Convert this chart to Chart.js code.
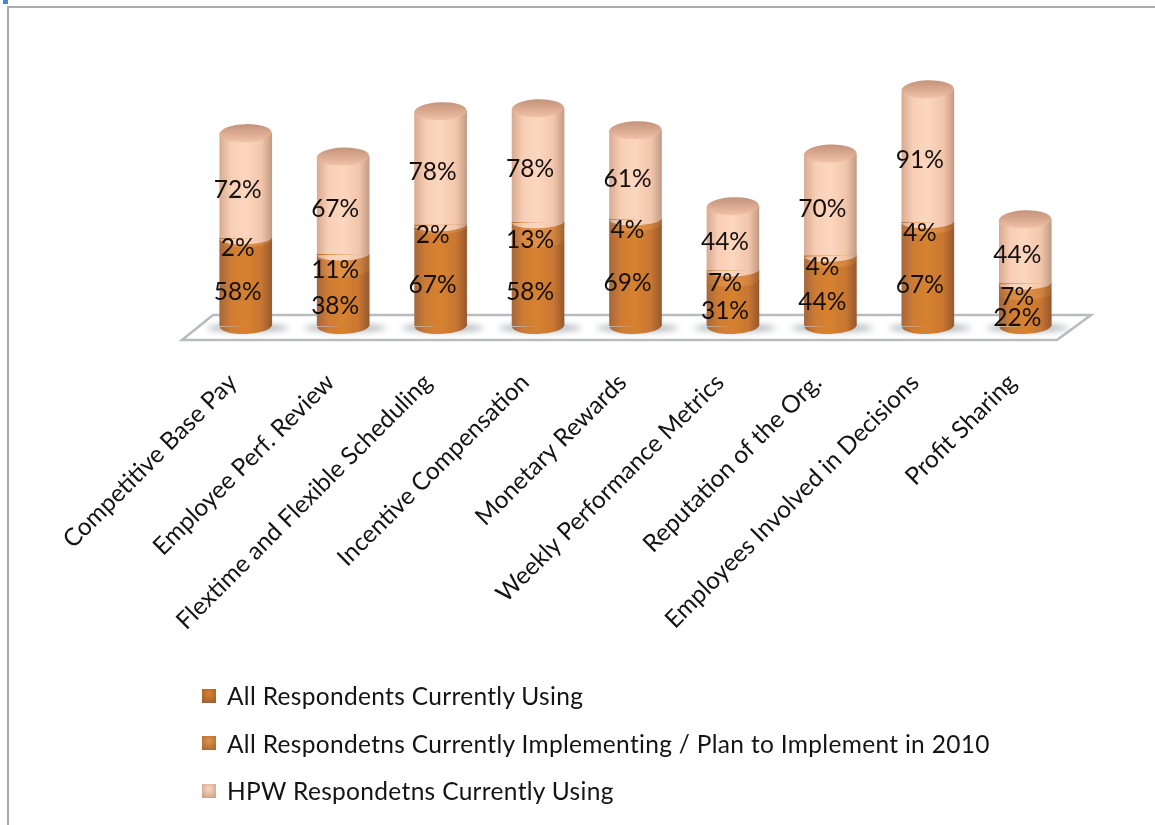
<!DOCTYPE html>
<html lang="en">
<head>
  <meta charset="UTF-8">
  <title>HPW practices</title>
  <script src="https://cdn.jsdelivr.net/npm/chart.js"></script>
  <style>
    html, body { margin: 0; padding: 0; background: #fff; overflow: hidden; }
    #wrap { position: absolute; left: 0; top: 0; width: 1155px; height: 825px; }
    #frame { position: absolute; left: 7px; top: 6px; right: -5px; bottom: -5px; border: 2px solid #a9adb2; }
    #corner { position: absolute; left: 3px; top: 0; width: 5px; height: 4px; background: #4a86d8; }
    canvas { position: absolute; left: 0; top: 0; }
    #legend { position: absolute; left: 202px; top: 672px; font: 24.5px Lato, sans-serif; letter-spacing: 0.32px; color: #141414; }
    .row { display: flex; align-items: center; height: 47.5px; white-space: nowrap; }
    .swatch { width: 14px; height: 14px; margin-right: 11px; flex: none; }
  </style>
</head>
<body>
  <div id="wrap">
    <div id="frame"></div>
    <div id="corner"></div>
    <canvas id="chart" width="1155" height="825"></canvas>
    <div id="legend"></div>
  </div>

  <script>
    const categories = ['Competitive Base Pay', 'Employee Perf. Review', 'Flextime and Flexible Scheduling',
      'Incentive Compensation', 'Monetary Rewards', 'Weekly Performance Metrics',
      'Reputation of the Org.', 'Employees Involved in Decisions', 'Profit Sharing'];
    const allUsing = [58, 38, 67, 58, 69, 31, 44, 67, 22];
    const allPlanning = [2, 11, 2, 13, 4, 7, 4, 4, 7];
    const hpwUsing = [72, 67, 78, 78, 61, 44, 70, 91, 44];
    const seriesNames = ['All Respondents Currently Using',
      'All Respondetns Currently Implementing / Plan to Implement in 2010',
      'HPW Respondetns Currently Using'];

    const BAR_W = 52;
    const stops = [
      ['#a5683c', '#cf7c34', '#d6822f', '#c87632', '#96592e'],
      ['#b06c3a', '#da8a42', '#e29246', '#d28440', '#a06434'],
      ['#d9ab92', '#f8cfb6', '#fcd6bf', '#f2c6ab', '#c39b85']
    ];

    function cylGradient(ctx, cx, colors) {
      const g = ctx.createLinearGradient(cx - BAR_W / 2, 0, cx + BAR_W / 2, 0);
      [0, 0.22, 0.5, 0.8, 1].forEach((p, i) => g.addColorStop(p, colors[i]));
      return g;
    }

    // round ends, dividers, floor and value labels, all placed from the bar elements
    const cylinders = {
      id: 'cylinders',
      beforeDatasetsDraw(chart) {
        const ctx = chart.ctx, a = chart.chartArea;
        ctx.save();
        ctx.beginPath();
        ctx.moveTo(a.left + 16, a.bottom - 11);
        ctx.lineTo(a.right + 17, a.bottom - 11);
        ctx.lineTo(a.right - 17, a.bottom + 14);
        ctx.lineTo(a.left - 15, a.bottom + 14);
        ctx.closePath();
        ctx.fillStyle = '#fff';
        ctx.fill();
        ctx.strokeStyle = '#b9bcbf';
        ctx.lineWidth = 2.5;
        ctx.stroke();
        ctx.filter = 'blur(3px)';
        ctx.fillStyle = 'rgba(85,95,105,0.45)';
        chart.getDatasetMeta(0).data.forEach(bar => {
          ctx.beginPath();
          ctx.ellipse(bar.x + 2, a.bottom + 2, BAR_W / 2 + 15, 4, 0, 0, Math.PI * 2);
          ctx.fill();
        });
        ctx.restore();
      },
      afterDatasetsDraw(chart) {
        const ctx = chart.ctx;
        const metas = [0, 1, 2].map(i => chart.getDatasetMeta(i));
        metas.forEach((meta, s) => {
          meta.data.forEach(bar => {
            ctx.save();
            ctx.fillStyle = cylGradient(ctx, bar.x, stops[s]);
            ctx.beginPath();
            ctx.ellipse(bar.x, bar.base, BAR_W / 2, s === 0 ? 8 : 6, -0.03, 0, Math.PI);
            ctx.fill();
            if (s === 2) {
              // lid, darker at the back and fading into the body at the front
              const g = ctx.createLinearGradient(0, bar.y - 9, 0, bar.y + 9);
              g.addColorStop(0, '#c4937b');
              g.addColorStop(0.55, '#dcab92');
              g.addColorStop(1, '#f0c2a8');
              ctx.fillStyle = g;
              ctx.beginPath();
              ctx.ellipse(bar.x, bar.y, BAR_W / 2, 9, -0.03, 0, Math.PI * 2);
              ctx.fill();
            }
            ctx.restore();
          });
        });
        ctx.save();
        ctx.font = '24.5px Lato, sans-serif';
        ctx.fillStyle = '#150f0c';
        ctx.textAlign = 'center';
        ctx.textBaseline = 'middle';
        metas.forEach((meta, s) => {
          const values = chart.data.datasets[s].data;
          meta.data.forEach((bar, i) => {
            ctx.fillText(values[i] + '%', bar.x - 8, (bar.y + bar.base) / 2 + (s === 2 ? 4 : 8));
          });
        });
        ctx.restore();
      }
    };

    const makeSeries = (label, data, s) => ({
      label, data, stack: 'a', barThickness: BAR_W, borderWidth: 0,
      backgroundColor: c => {
        const cx = c.chart.scales.x ? c.chart.scales.x.getPixelForValue(c.dataIndex) : NaN;
        return Number.isFinite(cx) ? cylGradient(c.chart.ctx, cx, stops[s]) : stops[s][2];
      }
    });

    new Chart(document.getElementById('chart'), {
      type: 'bar',
      data: {
        labels: categories,
        datasets: [
          makeSeries(seriesNames[0], allUsing, 0),
          makeSeries(seriesNames[1], allPlanning, 1),
          makeSeries(seriesNames[2], hpwUsing, 2)
        ]
      },
      options: {
        responsive: false,
        animation: false,
        layout: { padding: { left: 197, right: 81, top: 63, bottom: 0 } },
        plugins: { legend: { display: false }, tooltip: { enabled: false } },
        scales: {
          x: {
            stacked: true,
            grid: { display: false },
            border: { display: false },
            afterFit(scale) {
              scale.height = 499;
              scale.paddingLeft = 0;
              scale.paddingRight = 0;
            },
            ticks: {
              autoSkip: false,
              minRotation: 45,
              maxRotation: 45,
              padding: 34,
              labelOffset: -13,
              color: '#141414',
              font: { family: 'Lato', size: 24.4 }
            }
          },
          y: { stacked: true, display: false, min: 0, max: 180 }
        }
      },
      plugins: [cylinders]
    });

    // legend below the chart
    const legend = document.getElementById('legend');
    seriesNames.forEach((name, s) => {
      const row = document.createElement('div');
      row.className = 'row';
      const sw = document.createElement('span');
      sw.className = 'swatch';
      sw.style.background = 'radial-gradient(circle at 50% 35%, ' + stops[s][2] + ', ' + stops[s][4] + ')';
      const txt = document.createElement('span');
      txt.textContent = name;
      row.append(sw, txt);
      legend.append(row);
    });
  </script>
</body>
</html>
